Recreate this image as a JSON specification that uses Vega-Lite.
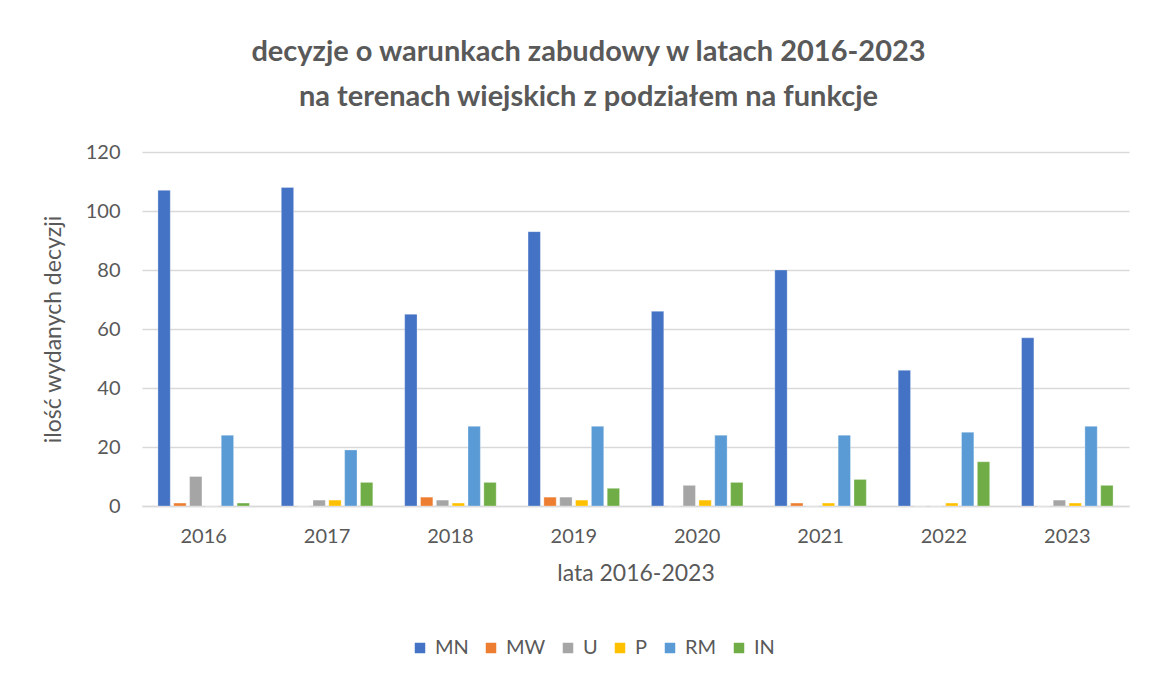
{
  "$schema": "https://vega.github.io/schema/vega-lite/v6.json",
  "autosize": "none",
  "width": 987,
  "height": 354,
  "padding": {"left": 142, "top": 152, "right": 20, "bottom": 171},
  "background": "white",
  "title": {
    "text": ["decyzje o warunkach zabudowy w latach 2016-2023", "na terenach wiejskich z podziałem na funkcje"],
    "font": "Lato",
    "fontSize": 29,
    "fontWeight": "bold",
    "color": "#595959",
    "lineHeight": 45,
    "anchor": "middle",
    "dx": -47,
    "offset": 30
  },
  "data": {"values": [
    {"rok": "2016", "funkcja": "MN", "ilosc": 107},
    {"rok": "2016", "funkcja": "MW", "ilosc": 1},
    {"rok": "2016", "funkcja": "U", "ilosc": 10},
    {"rok": "2016", "funkcja": "P", "ilosc": 0},
    {"rok": "2016", "funkcja": "RM", "ilosc": 24},
    {"rok": "2016", "funkcja": "IN", "ilosc": 1},
    {"rok": "2017", "funkcja": "MN", "ilosc": 108},
    {"rok": "2017", "funkcja": "MW", "ilosc": 0},
    {"rok": "2017", "funkcja": "U", "ilosc": 2},
    {"rok": "2017", "funkcja": "P", "ilosc": 2},
    {"rok": "2017", "funkcja": "RM", "ilosc": 19},
    {"rok": "2017", "funkcja": "IN", "ilosc": 8},
    {"rok": "2018", "funkcja": "MN", "ilosc": 65},
    {"rok": "2018", "funkcja": "MW", "ilosc": 3},
    {"rok": "2018", "funkcja": "U", "ilosc": 2},
    {"rok": "2018", "funkcja": "P", "ilosc": 1},
    {"rok": "2018", "funkcja": "RM", "ilosc": 27},
    {"rok": "2018", "funkcja": "IN", "ilosc": 8},
    {"rok": "2019", "funkcja": "MN", "ilosc": 93},
    {"rok": "2019", "funkcja": "MW", "ilosc": 3},
    {"rok": "2019", "funkcja": "U", "ilosc": 3},
    {"rok": "2019", "funkcja": "P", "ilosc": 2},
    {"rok": "2019", "funkcja": "RM", "ilosc": 27},
    {"rok": "2019", "funkcja": "IN", "ilosc": 6},
    {"rok": "2020", "funkcja": "MN", "ilosc": 66},
    {"rok": "2020", "funkcja": "MW", "ilosc": 0},
    {"rok": "2020", "funkcja": "U", "ilosc": 7},
    {"rok": "2020", "funkcja": "P", "ilosc": 2},
    {"rok": "2020", "funkcja": "RM", "ilosc": 24},
    {"rok": "2020", "funkcja": "IN", "ilosc": 8},
    {"rok": "2021", "funkcja": "MN", "ilosc": 80},
    {"rok": "2021", "funkcja": "MW", "ilosc": 1},
    {"rok": "2021", "funkcja": "U", "ilosc": 0},
    {"rok": "2021", "funkcja": "P", "ilosc": 1},
    {"rok": "2021", "funkcja": "RM", "ilosc": 24},
    {"rok": "2021", "funkcja": "IN", "ilosc": 9},
    {"rok": "2022", "funkcja": "MN", "ilosc": 46},
    {"rok": "2022", "funkcja": "MW", "ilosc": 0},
    {"rok": "2022", "funkcja": "U", "ilosc": 0},
    {"rok": "2022", "funkcja": "P", "ilosc": 1},
    {"rok": "2022", "funkcja": "RM", "ilosc": 25},
    {"rok": "2022", "funkcja": "IN", "ilosc": 15},
    {"rok": "2023", "funkcja": "MN", "ilosc": 57},
    {"rok": "2023", "funkcja": "MW", "ilosc": 0},
    {"rok": "2023", "funkcja": "U", "ilosc": 2},
    {"rok": "2023", "funkcja": "P", "ilosc": 1},
    {"rok": "2023", "funkcja": "RM", "ilosc": 27},
    {"rok": "2023", "funkcja": "IN", "ilosc": 7}
  ]},
  "mark": {"type": "bar", "stroke": "white", "strokeWidth": 0.5, "strokeOpacity": 0.6},
  "encoding": {
    "x": {
      "field": "rok", "type": "nominal",
      "scale": {"paddingInner": 0.23, "paddingOuter": 0.115},
      "axis": {
        "title": "lata 2016-2023",
        "labelAngle": 0,
        "ticks": false,
        "domainColor": "#d9d9d9",
        "domainWidth": 1.5,
        "labelPadding": 20,
        "titlePadding": 16
      }
    },
    "xOffset": {
      "field": "funkcja", "type": "nominal",
      "sort": ["MN", "MW", "U", "P", "RM", "IN"],
      "scale": {"paddingInner": 0.22, "paddingOuter": 0.11}
    },
    "y": {
      "field": "ilosc", "type": "quantitative",
      "scale": {"domain": [0, 120]},
      "axis": {
        "title": "ilość wydanych decyzji",
        "values": [0, 20, 40, 60, 80, 100, 120],
        "domain": false,
        "ticks": false,
        "gridColor": "#d9d9d9",
        "gridWidth": 1.5,
        "labelPadding": 22,
        "titlePadding": 20
      }
    },
    "color": {
      "field": "funkcja", "type": "nominal",
      "sort": ["MN", "MW", "U", "P", "RM", "IN"],
      "scale": {
        "domain": ["MN", "MW", "U", "P", "RM", "IN"],
        "range": ["#4472C4", "#ED7D31", "#A5A5A5", "#FFC000", "#5B9BD5", "#70AD47"]
      },
      "legend": {
        "title": null,
        "orient": "none",
        "direction": "horizontal",
        "legendX": 268,
        "legendY": 486,
        "symbolType": "square",
        "symbolSize": 110,
        "symbolStrokeWidth": 0,
        "labelOffset": 5,
        "columnPadding": 12
      }
    }
  },
  "config": {
    "font": "Lato",
    "view": {"stroke": null},
    "axis": {
      "labelFont": "Lato",
      "labelFontSize": 20,
      "labelColor": "#595959",
      "titleFont": "Lato",
      "titleFontSize": 23,
      "titleFontWeight": "normal",
      "titleColor": "#595959"
    },
    "legend": {
      "labelFont": "Lato",
      "labelFontSize": 20,
      "labelColor": "#595959"
    }
  }
}
